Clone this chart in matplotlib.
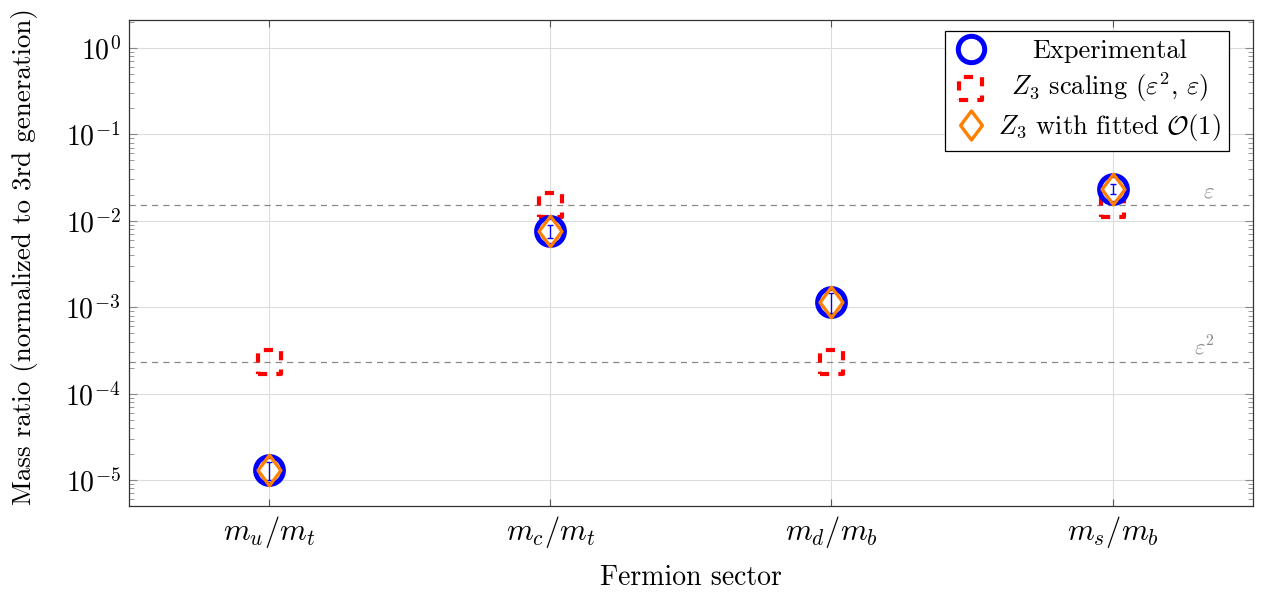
import matplotlib
matplotlib.use('Agg')
import matplotlib.pyplot as plt
from matplotlib.path import Path
import matplotlib.transforms as mtransforms

plt.rcParams['font.family'] = 'serif'
plt.rcParams['font.serif'] = ['cmr10']
plt.rcParams['mathtext.fontset'] = 'cm'
plt.rcParams['axes.formatter.use_mathtext'] = True

# data
sectors = [r'$m_u/m_t$', r'$m_c/m_t$', r'$m_d/m_b$', r'$m_s/m_b$']
experimental = [1.3e-5, 7.6e-3, 1.15e-3, 2.35e-2]
exp_err = [0.3e-5, 1.3e-3, 0.3e-3, 0.3e-2]
eps = 0.0152
z3_scaling = [eps**2, eps, eps**2, eps]
z3_fitted = [1.3e-5, 7.6e-3, 1.15e-3, 2.35e-2]

x = list(range(len(sectors)))

fig = plt.figure(figsize=(12.63, 5.96), dpi=100)
ax = fig.add_axes([0.1021, 0.151, 0.890, 0.8154])

ax.set_yscale('log')
ax.set_ylim(5e-6, 2.1)
ax.set_xlim(-0.5, 3.5)

ax.grid(True, which='major', color='#dcdcdc', linewidth=0.8, zorder=0)
ax.set_axisbelow(True)

# reference lines
ax.axhline(eps, color='#888888', linestyle=(0, (5, 4)), linewidth=0.9, zorder=1)
ax.axhline(eps**2, color='#888888', linestyle=(0, (5, 4)), linewidth=0.9, zorder=1)
tr = mtransforms.blended_transform_factory(ax.transAxes, ax.transData)
ax.text(0.961, eps * 1.42, r'$\varepsilon$', transform=tr, color='#888888',
        fontsize=16, ha='center', va='center')
ax.text(0.957, eps**2 * 1.5, r'$\varepsilon^2$', transform=tr, color='#888888',
        fontsize=16, ha='center', va='center')

ax.scatter(x, z3_scaling, marker='s', s=290, facecolors='none', edgecolors='red',
           linewidths=3, linestyles=(0, (2.2, 2.2)), zorder=2.5,
           label=r'$Z_3$ scaling ($\varepsilon^2$, $\varepsilon$)')
ax.plot(x, experimental, linestyle='none', marker='o', markersize=20,
        markerfacecolor='white', markeredgecolor='blue', markeredgewidth=3.6,
        zorder=3, label='Experimental')
ax.errorbar(x, experimental, yerr=exp_err, fmt='none', ecolor='blue',
            elinewidth=1, capsize=2.5, capthick=1, zorder=4)
diamond = Path([(0, 1), (0.75, 0), (0, -1), (-0.75, 0), (0, 1)],
               [Path.MOVETO, Path.LINETO, Path.LINETO, Path.LINETO, Path.CLOSEPOLY])
ax.plot(x, z3_fitted, linestyle='none', marker=diamond, markersize=22,
        markerfacecolor='none', markeredgecolor='#ff7f00', markeredgewidth=2.4,
        zorder=5, label=r'$Z_3$ with fitted $\mathcal{O}(1)$')

ax.set_xticks(x)
ax.set_xticklabels(sectors, fontsize=22)
ax.tick_params(axis='x', direction='in', top=True, length=5, color='#555555', pad=6)
ax.tick_params(axis='y', which='major', direction='in', right=True, length=6,
               color='#888888', labelsize=20, pad=6)
ax.tick_params(axis='y', which='minor', direction='in', right=True, length=3.5,
               color='#888888')
for sp in ax.spines.values():
    sp.set_color('#333333')
    sp.set_linewidth(0.9)

ax.set_xlabel('Fermion sector', fontsize=20, labelpad=10)
ax.set_ylabel('Mass ratio (normalized to 3rd generation)', fontsize=19.5, labelpad=20)
ax.yaxis.label.set_y(0.513)

h, l = ax.get_legend_handles_labels()
order = [1, 0, 2]
leg = ax.legend([h[i] for i in order], [l[i] for i in order], loc='upper right',
                bbox_to_anchor=(0.9786, 0.977), borderaxespad=0, fontsize=19,
                fancybox=False, framealpha=1, edgecolor='black',
                handletextpad=0.4, borderpad=0.3, labelspacing=0.3,
                handlelength=1.3, markerscale=0.95)
leg.get_frame().set_linewidth(0.9)

# centre the legend entries in the text column (shift in pixels)
fig.canvas.draw()
renderer = fig.canvas.get_renderer()
widths = [t.get_window_extent(renderer).width for t in leg.get_texts()]
wmax = max(widths)
for t, w in zip(leg.get_texts(), widths):
    t.set_position(((wmax - w) / 2, 0))

fig.savefig('out.png', dpi=100)
